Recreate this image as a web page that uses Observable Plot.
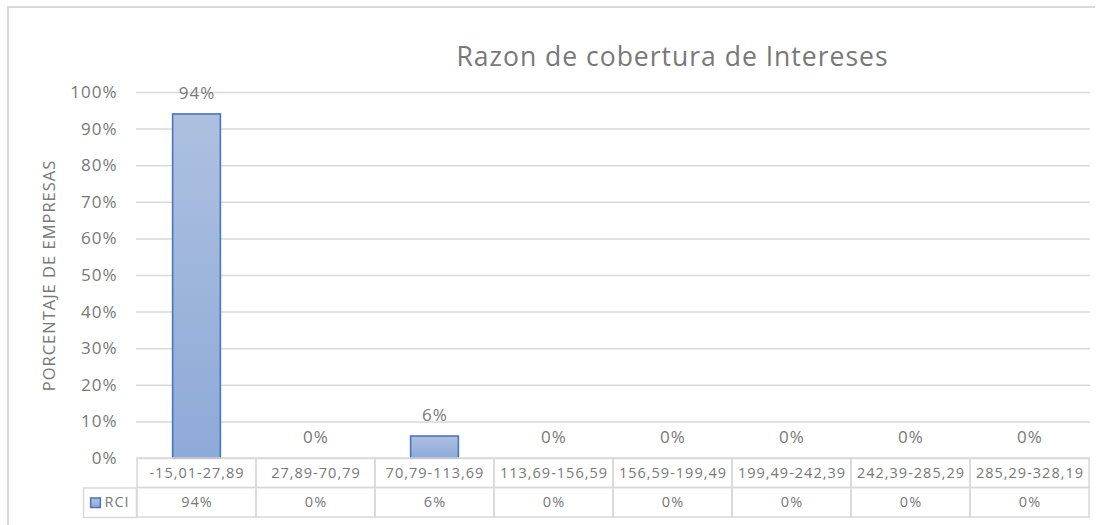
<!DOCTYPE html>
<html>
<head>
<meta charset="utf-8">
<script src="https://cdn.jsdelivr.net/npm/d3@7"></script>
<script src="https://cdn.jsdelivr.net/npm/@observablehq/plot@0.6"></script>
<style>
  html, body { margin: 0; padding: 0; background: #fff; }
  #wrap { position: relative; width: 1104px; height: 525px; overflow: hidden; }
  #border { position: absolute; left: 7px; top: 6px; width: 1086px; height: 600px;
            border-left: 2px solid #d9d9d9; border-top: 2px solid #d9d9d9; }
  #chart { position: absolute; left: 0; top: 0; }
</style>
</head>
<body>
<div id="wrap"><div id="border"></div><div id="chart"></div></div>
<script>
const title = "Razon de cobertura de Intereses";
const yLabel = "PORCENTAJE DE EMPRESAS";
const seriesName = "RCI";
const categories = ["-15,01-27,89", "27,89-70,79", "70,79-113,69", "113,69-156,59", "156,59-199,49", "199,49-242,39", "242,39-285,29", "285,29-328,19"];
const values = [94, 0, 6, 0, 0, 0, 0, 0];
const yTicks = [0, 10, 20, 30, 40, 50, 60, 70, 80, 90, 100];

const data = categories.map((c, i) => ({cat: c, value: values[i]}));

const W = 1104, H = 525;
const mL = 136, mR = 14, mT = 92, mB = 67;
const plotH = H - mT - mB;
const plotW = W - mL - mR;
const rowH = 29.5;
const band = plotW / categories.length;
const barW = 48;
const barInset = (band - barW) / 2;
const txt = "#787878";
const grid = "#d9d9d9";
const font = "Open Sans";

const chart = Plot.plot({
  width: W, height: H,
  marginLeft: mL, marginRight: mR, marginTop: mT, marginBottom: mB,
  style: {fontFamily: font, fontSize: "15px", color: txt, background: "transparent", overflow: "visible", letterSpacing: "1px"},
  x: {domain: categories, padding: 0, axis: null},
  y: {domain: [0, 100], axis: null},
  marks: [
    Plot.ruleY(yTicks, {stroke: grid, strokeWidth: 1.5}),
    Plot.axisY(yTicks, {tickSize: 0, tickPadding: 19, tickFormat: d => d + "%", fontSize: 17, fill: txt, label: null}),
    Plot.text([yLabel], {frameAnchor: "left", textAnchor: "middle", dx: -87, rotate: -90, fontSize: 16.5, fill: txt}),
    Plot.text([title], {frameAnchor: "top", lineAnchor: "middle", dx: 59, dy: -35, fontSize: 26.5, fill: txt}),
    Plot.barY(data, {x: "cat", y: "value", insetLeft: barInset, insetRight: barInset,
      fill: "url(#barGrad)", stroke: "#4a74bd", strokeWidth: 1.6}),
    Plot.text(data, {x: "cat", y: "value", text: d => d.value + "%", dy: -21, fontSize: 17, fill: txt}),
    // data table
    Plot.cell(categories, {x: d => d, insetTop: plotH, insetBottom: -rowH, fill: "none", stroke: grid, strokeWidth: 1.5}),
    Plot.cell(categories, {x: d => d, insetTop: plotH + rowH, insetBottom: -2 * rowH, fill: "none", stroke: grid, strokeWidth: 1.5}),
    Plot.frame({insetLeft: -53, insetRight: plotW, insetTop: plotH + rowH, insetBottom: -2 * rowH, stroke: grid, strokeWidth: 1.5}),
    Plot.text(categories, {x: d => d, text: d => d, frameAnchor: "bottom", lineAnchor: "middle", dy: rowH / 2, fontSize: 14.5, fill: txt}),
    Plot.text(values, {x: (d, i) => categories[i], text: d => d + "%", frameAnchor: "bottom", lineAnchor: "middle", dy: rowH * 1.5, fontSize: 14.5, fill: txt}),
    Plot.dot([seriesName], {frameAnchor: "bottom-left", dx: -41, dy: rowH * 1.5, symbol: "square", r: 5.5,
      fill: "url(#barGrad)", stroke: "#4a74bd", strokeWidth: 1.5}),
    Plot.text([seriesName], {frameAnchor: "bottom-left", lineAnchor: "middle", dx: -32, dy: rowH * 1.5, textAnchor: "start", fontSize: 14.5, fill: txt})
  ]
});

const svg = d3.select(chart);
const defs = svg.insert("defs", ":first-child");
const g = defs.append("linearGradient").attr("id", "barGrad")
  .attr("x1", 0).attr("y1", 0).attr("x2", 0).attr("y2", 1);
g.append("stop").attr("offset", "0%").attr("stop-color", "#adc0e0");
g.append("stop").attr("offset", "100%").attr("stop-color", "#8eaad8");

document.getElementById("chart").appendChild(chart);
</script>
</body>
</html>
